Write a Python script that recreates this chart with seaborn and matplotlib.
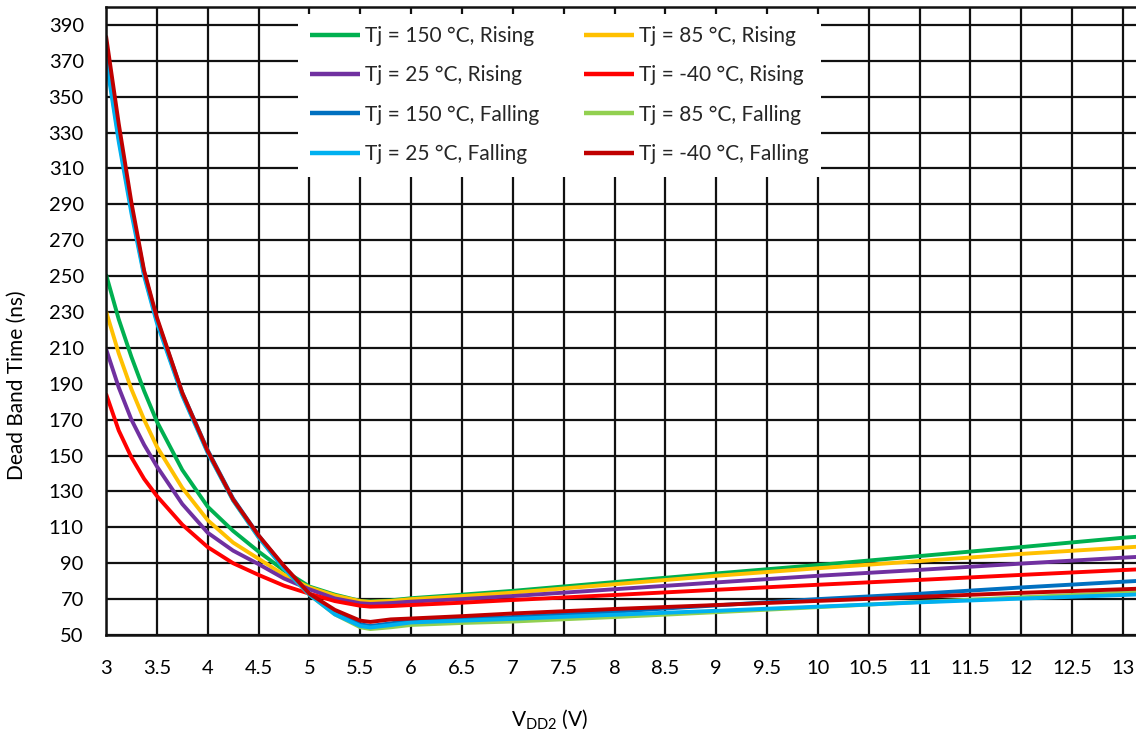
import numpy as np
import pandas as pd
import matplotlib
matplotlib.use("Agg")
import matplotlib.pyplot as plt
from matplotlib.ticker import FuncFormatter
import seaborn as sns

# supply voltage points (V)
vdd2 = [3, 3.125, 3.25, 3.375, 3.5, 3.75, 4, 4.25, 4.5, 4.75, 5, 5.25, 5.5,
        5.6, 5.8, 6, 6.5, 7, 8, 9, 10, 11, 12, 13, 13.2]

# dead band time (ns)
tj150_rise = [251, 226, 205, 186, 169, 142, 121.5, 108, 96.5, 86, 77, 72.5, 69,
              68.7, 69.3, 70.5, 72.5, 74.6, 79.5, 84.3, 89, 94, 99, 104.2, 105]
tj85_rise = [230.5, 207, 187, 170, 155, 132, 114, 101.5, 92.5, 83.5, 76.5, 72, 68.9,
             68.5, 69, 70, 71.7, 73.6, 78.3, 83, 87.2, 91.2, 95.2, 98.7, 99.4]
tj25_rise = [209.5, 188, 170, 156, 144, 123, 107, 97, 89.5, 81.5, 75.5, 70.4, 67.7,
             67.3, 67.8, 68.6, 70, 71.7, 75.5, 79.3, 83, 86.3, 89.8, 93.1, 93.7]
tjm40_rise = [184.5, 164, 149, 137, 127.5, 111.5, 99, 90, 83.5, 77.5, 73, 68.9, 66.3,
              65.8, 66.1, 66.7, 68, 69.5, 72.3, 75.2, 78, 80.7, 83.5, 86.2, 86.7]
tj150_fall = [376, 329, 288, 252, 226, 185, 153, 126, 105.5, 88, 73, 62.5, 56,
              55, 56.5, 58, 59, 60, 63, 66.5, 70, 73, 76.5, 79.7, 80.3]
tj85_fall = [373, 327, 287, 251, 225, 184, 152, 125, 104.5, 87, 72.5, 61.5, 54.3,
             53.3, 54.3, 55.6, 56.7, 57.5, 60, 62.7, 65.5, 68.4, 71, 73.6, 74.1]
tj25_fall = [371, 325, 285, 250, 224, 183.5, 151.5, 125, 104.5, 87, 72.5, 61.5, 55,
             54.2, 55.5, 57, 58, 59, 61.3, 63.5, 65.8, 68.2, 70.3, 72.3, 72.7]
tjm40_fall = [384, 335, 291, 253, 227, 185, 152.5, 125.5, 105.5, 88.5, 73, 64, 58,
              57.3, 58.7, 59.2, 60.5, 62, 64.5, 66.7, 69, 71.3, 73.5, 75.5, 75.9]

series_names = ["Tj = 150 °C, Rising", "Tj = 85 °C, Rising",
                "Tj = 25 °C, Rising", "Tj = -40 °C, Rising",
                "Tj = 150 °C, Falling", "Tj = 85 °C, Falling",
                "Tj = 25 °C, Falling", "Tj = -40 °C, Falling"]
series_values = [tj150_rise, tj85_rise, tj25_rise, tjm40_rise,
                 tj150_fall, tj85_fall, tj25_fall, tjm40_fall]
series_colors = ["#00B050", "#FFC000", "#7030A0", "#FF0000",
                 "#0070C0", "#92D050", "#00B0F0", "#C00000"]

x_ticks = np.arange(3, 13.01, 0.5)
y_ticks = np.arange(50, 391, 20)

rows = []
for name, vals in zip(series_names, series_values):
    for xv, yv in zip(vdd2, vals):
        rows.append({"vdd2": xv, "dbt": yv, "series": name})
df = pd.DataFrame(rows)

sns.set_theme(style="white")
plt.rcParams["font.family"] = ["Lato", "DejaVu Sans"]
plt.rcParams["mathtext.fontset"] = "custom"
plt.rcParams["mathtext.rm"] = "Lato"

fig = plt.figure(figsize=(11.36, 7.35), dpi=100)
W, H = 1136, 735
ax = fig.add_axes([106 / W, (H - 635) / H, (W - 106) / W, (635 - 7) / H])

sns.lineplot(data=df, x="vdd2", y="dbt", hue="series", hue_order=series_names,
             palette=series_colors, estimator=None, sort=True, linewidth=2.8,
             ax=ax)
for ln in ax.get_lines():
    ln.set_solid_joinstyle("round")
    ln.set_solid_capstyle("butt")

ax.set_xlim(3, 3 + (W - 106) / 101.7)
ax.set_ylim(50, 400)
ax.set_xticks(x_ticks)
ax.set_yticks(y_ticks)
ax.xaxis.set_major_formatter(FuncFormatter(lambda v, p: f"{v:g}"))
ax.tick_params(axis="both", length=0, labelsize=14.5, colors="black")
ax.tick_params(axis="x", pad=18)
ax.tick_params(axis="y", pad=16)
ax.grid(True, color="#111111", linewidth=1.6)
ax.set_axisbelow(True)
for side in ["left", "bottom", "top"]:
    ax.spines[side].set_color("#111111")
    ax.spines[side].set_linewidth(1.8)
ax.spines["right"].set_visible(False)

ax.set_ylabel("Dead Band Time (ns)", fontsize=15, color="black")
ax.yaxis.set_label_coords(-0.0767, 0.398)
ax.set_xlabel(r"V$_{\mathregular{DD2}}$ (V)", fontsize=15, color="black")
ax.xaxis.set_label_coords(0.431, -0.116)

# legend in Excel row order -> matplotlib column order
handles, labels = ax.get_legend_handles_labels()
order = [0, 2, 4, 6, 1, 3, 5, 7]
leg = ax.legend([handles[i] for i in order], [labels[i] for i in order],
                ncol=2, loc="upper left", bbox_to_anchor=(0.1864, 0.9896),
                fontsize=15, frameon=True, fancybox=False, framealpha=1,
                edgecolor="none", facecolor="white", handlelength=2.4,
                handletextpad=0.24, columnspacing=2.11, labelspacing=0.93,
                borderpad=0.6, borderaxespad=0)
for lh in leg.get_lines():
    lh.set_linewidth(3.2)

fig.savefig("out.png", dpi=100)
